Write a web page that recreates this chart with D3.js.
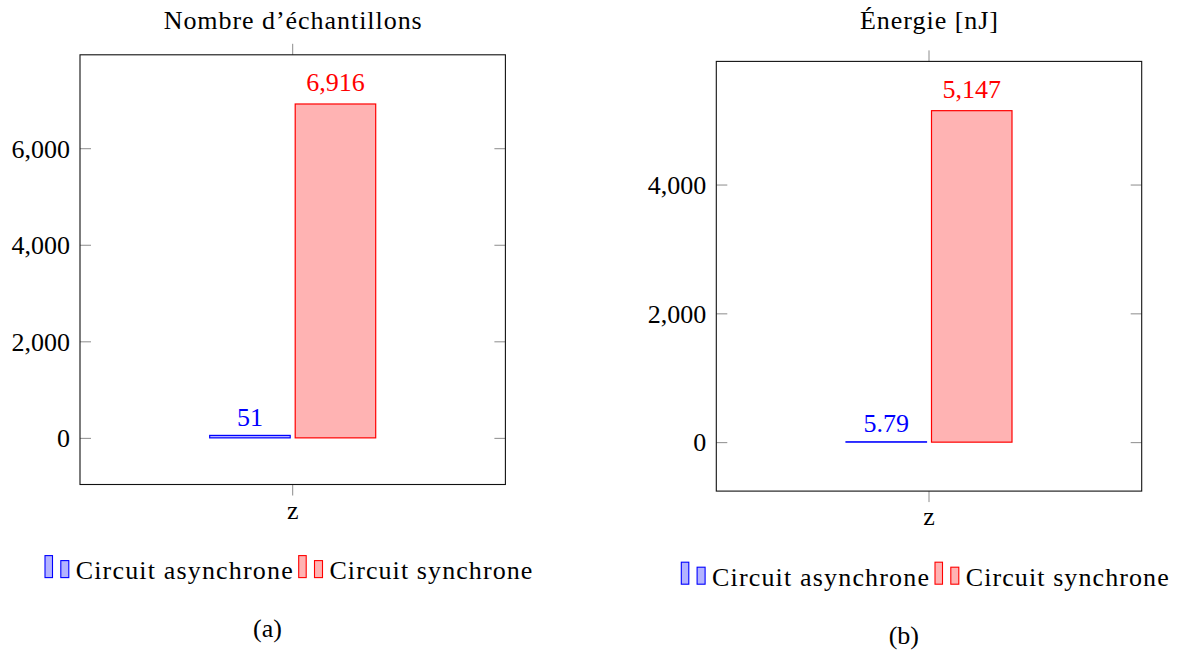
<!DOCTYPE html>
<html>
<head>
<meta charset="utf-8">
<script src="https://cdn.jsdelivr.net/npm/d3@7"></script>
<style>
  html, body { margin: 0; padding: 0; background: #fff; }
  svg { display: block; }
  text { font-family: "Liberation Serif", "DejaVu Serif", serif; fill: #000; }
</style>
</head>
<body>
<svg id="chart" width="1177" height="652"></svg>
<script>
// ---- data ----
const categories = ["z"];
const seriesNames = ["Circuit asynchrone", "Circuit synchrone"];
const seriesStroke = ["#0000ff", "#ff0000"];
const seriesFill = ["#b3b3ff", "#ffb3b3"];

const countTitle = "Nombre d\u2019échantillons";
const countValues = [51, 6916];
const countTicks = [0, 2000, 4000, 6000];
const countDomain = [-966, 7935];

const energyTitle = "Énergie [nJ]";
const energyValues = [5.79, 5147];
const energyTicks = [0, 2000, 4000];
const energyDomain = [-760, 5912];

const captions = ["(a)", "(b)"];

// ---- layout / style ----
const FS = 26;
const PW = 425.4, PH = 429.7;
const svg = d3.select("#chart");
const fmt = d3.format(",");

function panel(opts) {
  const { left, top, title, values, ticks, domain, caption } = opts;
  const right = left + PW, bottom = top + PH;
  const g = svg.append("g");

  const x = d3.scaleBand().domain(categories).range([left, right]);
  const y = d3.scaleLinear().domain(domain).range([bottom, top]);
  const cx = x(categories[0]) + x.bandwidth() / 2;
  const xs = d3.scaleBand().domain(seriesNames).range([cx - 83, cx + 83]).paddingInner(0.0585);

  // y ticks (inside, both sides)
  const yAxisL = d3.axisLeft(y).tickValues(ticks).tickSize(-11).tickPadding(10).tickFormat(fmt);
  const gl = g.append("g").attr("transform", `translate(${left},0)`).call(yAxisL);
  gl.select(".domain").remove();
  gl.selectAll(".tick line").attr("stroke", "#8c8c8c").attr("stroke-width", 1);
  gl.selectAll(".tick text").attr("font-size", FS).attr("font-family", "Liberation Serif").attr("dy", "0.34em");

  const yAxisR = d3.axisRight(y).tickValues(ticks).tickSize(-11).tickFormat("");
  const gr = g.append("g").attr("transform", `translate(${right},0)`).call(yAxisR);
  gr.select(".domain").remove();
  gr.selectAll(".tick line").attr("stroke", "#8c8c8c").attr("stroke-width", 1);

  // x ticks (outside, top and bottom)
  const xAxisB = d3.axisBottom(x).tickSize(11).tickPadding(10);
  const gb = g.append("g").attr("transform", `translate(0,${bottom})`).call(xAxisB);
  gb.select(".domain").remove();
  gb.selectAll(".tick line").attr("stroke", "#8c8c8c").attr("stroke-width", 1);
  gb.selectAll(".tick text").attr("font-size", FS).attr("font-family", "Liberation Serif").attr("dy", "0.5em");

  const xAxisT = d3.axisTop(x).tickSize(11).tickFormat("");
  const gt = g.append("g").attr("transform", `translate(0,${top})`).call(xAxisT);
  gt.select(".domain").remove();
  gt.selectAll(".tick line").attr("stroke", "#8c8c8c").attr("stroke-width", 1);

  // bars
  const data = seriesNames.map((s, i) => ({ s, i, v: values[i] }));
  g.selectAll("rect.bar").data(data).enter().append("rect")
    .attr("class", "bar")
    .attr("x", d => xs(d.s))
    .attr("width", xs.bandwidth())
    .attr("y", d => y(Math.max(0, d.v)))
    .attr("height", d => Math.abs(y(d.v) - y(0)))
    .attr("fill", d => seriesFill[d.i])
    .attr("stroke", d => seriesStroke[d.i])
    .attr("stroke-width", 1.2);

  // value labels
  g.selectAll("text.val").data(data).enter().append("text")
    .attr("class", "val")
    .attr("x", d => xs(d.s) + xs.bandwidth() / 2)
    .attr("y", d => y(d.v) - (fmt(d.v).includes(",") ? 13 : 9.5))
    .attr("text-anchor", "middle")
    .attr("font-size", FS)
    .style("fill", d => seriesStroke[d.i])
    .text(d => fmt(d.v));

  // frame
  g.append("rect")
    .attr("x", left).attr("y", top).attr("width", PW).attr("height", PH)
    .attr("fill", "none").attr("stroke", "#111").attr("stroke-width", 1.1);

  // title
  g.append("text")
    .attr("x", cx).attr("y", 29)
    .attr("text-anchor", "middle")
    .attr("font-size", FS)
    .attr("textLength", title.length > 15 ? 258 : 138)
    .attr("lengthAdjust", "spacing")
    .text(title);

  // legend
  const lg = g.append("g");
  let lx = left - 35;
  const rectBottom = bottom + 93.1;
  const textWidths = [217, 203];
  seriesNames.forEach((s, i) => {
    lg.append("rect").attr("x", lx).attr("y", rectBottom - 22).attr("width", 7.5).attr("height", 22)
      .attr("fill", seriesFill[i]).attr("stroke", seriesStroke[i]).attr("stroke-width", 1.1);
    lg.append("rect").attr("x", lx + 15.8).attr("y", rectBottom - 17).attr("width", 8).attr("height", 17)
      .attr("fill", seriesFill[i]).attr("stroke", seriesStroke[i]).attr("stroke-width", 1.1);
    lg.append("text").attr("x", lx + 30.7).attr("y", bottom + 94.6)
      .attr("font-size", FS)
      .attr("textLength", textWidths[i]).attr("lengthAdjust", "spacing")
      .text(s);
    lx += 30.7 + textWidths[i] + 6;
  });

  // caption
  g.append("text")
    .attr("x", left + 187.5).attr("y", bottom + 152.5)
    .attr("text-anchor", "middle")
    .attr("font-size", FS)
    .text(caption);
}

panel({ left: 80, top: 54.8, title: countTitle, values: countValues, ticks: countTicks, domain: countDomain, caption: captions[0] });
panel({ left: 716.3, top: 61.4, title: energyTitle, values: energyValues, ticks: energyTicks, domain: energyDomain, caption: captions[1] });
</script>
</body>
</html>
